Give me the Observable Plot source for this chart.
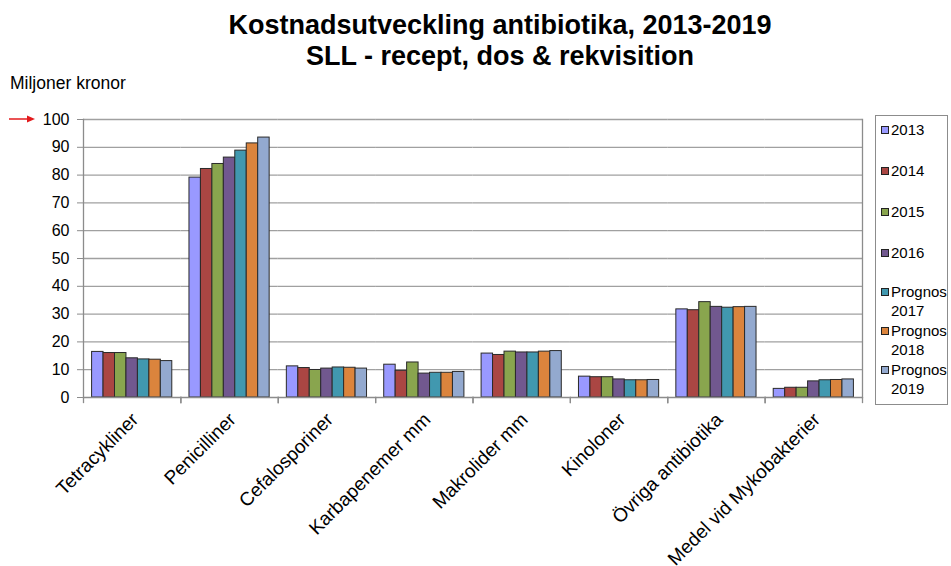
<!DOCTYPE html>
<html>
<head>
<meta charset="utf-8">
<script src="https://cdn.jsdelivr.net/npm/d3@7"></script>
<script src="https://cdn.jsdelivr.net/npm/@observablehq/plot@0.6"></script>
<style>
  body { margin: 0; background: #fff; font-family: "Liberation Sans", Arial, sans-serif; }
  #wrap { position: relative; width: 951px; height: 566px; }
  #wrap > svg { position: absolute; left: 0; top: 0; overflow: visible; }
  .title { position: absolute; left: 100px; width: 800px; text-align: center; font-weight: bold; font-size: 27px; line-height: 30px; color: #000; white-space: nowrap; }
  .unit { position: absolute; left: 10px; top: 73px; font-size: 17.5px; line-height: 20px; color: #000; white-space: nowrap; }
  .legend { position: absolute; left: 875px; top: 115px; width: 73px; height: 290px; border: 1px solid #8c8c8c; box-sizing: border-box; padding-top: 4px; background: #fff; }
  .item { position: relative; padding-left: 15px; font-size: 15px; line-height: 19px; color: #000; white-space: nowrap; }
  .sw { position: absolute; left: 5px; top: 6px; width: 6px; height: 6px; border: 1px solid #222; }
</style>
</head>
<body>
<div id="wrap"></div>
<script>
// Kostnad per antibiotikagrupp (miljoner kronor), 2013-2016 utfall, 2017-2019 prognos
const categories = [
  "Tetracykliner", "Penicilliner", "Cefalosporiner", "Karbapenemer mm",
  "Makrolider mm", "Kinoloner", "Övriga antibiotika", "Medel vid Mykobakterier"
];
const years = ["2013", "2014", "2015", "2016", "Prognos 2017", "Prognos 2018", "Prognos 2019"];
const colors = ["#9999ff", "#aa4643", "#89a54e", "#71588f", "#4198af", "#db843d", "#93a9cf"];

const v2013 = [16.4, 79.1, 11.2, 11.8, 15.8, 7.5, 31.7, 3.1];
const v2014 = [16.0, 82.2, 10.6,  9.6, 15.3, 7.3, 31.4, 3.5];
const v2015 = [16.0, 84.0,  9.9, 12.6, 16.5, 7.3, 34.3, 3.5];
const v2016 = [14.1, 86.3, 10.4,  8.6, 16.2, 6.5, 32.6, 5.8];
const v2017 = [13.7, 88.8, 10.8,  8.9, 16.2, 6.2, 32.3, 6.2];
const v2018 = [13.6, 91.4, 10.7,  8.9, 16.5, 6.2, 32.5, 6.3];
const v2019 = [13.1, 93.5, 10.4,  9.2, 16.7, 6.3, 32.6, 6.5];

const yTicks = [0, 10, 20, 30, 40, 50, 60, 70, 80, 90, 100];

const series = [v2013, v2014, v2015, v2016, v2017, v2018, v2019];
const rows = [];
categories.forEach((cat, i) => {
  years.forEach((year, j) => rows.push({cat, year, value: series[j][i]}));
});

const wrap = document.getElementById("wrap");
const innerHeight = 566 - 119 - 169;
const axisGray = "#8c8c8c";

const plot = Plot.plot({
  width: 951,
  height: 566,
  marginTop: 119,
  marginBottom: 169,
  marginLeft: 83,
  marginRight: 89,
  style: {fontFamily: "'Liberation Sans', Arial, sans-serif", background: "transparent", color: "#000", overflow: "visible"},
  fx: {domain: categories, padding: 0, round: false, label: null},
  x: {domain: years, paddingInner: 0, paddingOuter: 0.75, round: false, axis: null},
  y: {domain: [0, 100], label: null},
  color: {domain: years, range: colors},
  marks: [
    Plot.gridY(yTicks.slice(1), {stroke: "#a0a0a0", strokeOpacity: 1, strokeWidth: 1.3}),
    Plot.barY(rows, {fx: "cat", x: "year", y: "value", fill: "year", stroke: "#2a2a2a", strokeWidth: 1}),
    Plot.ruleY([0], {stroke: axisGray, strokeWidth: 1.3}),
    Plot.frame({anchor: "left", facetAnchor: "left", stroke: axisGray, strokeWidth: 1.3}),
    Plot.frame({anchor: "right", facetAnchor: "right", stroke: axisGray, strokeWidth: 1.3}),
    Plot.frame({anchor: "left", insetTop: innerHeight, insetBottom: -5, stroke: axisGray, strokeWidth: 1.3}),
    Plot.frame({anchor: "right", insetTop: innerHeight, insetBottom: -5, stroke: axisGray, strokeWidth: 1.3}),
    Plot.axisY(yTicks, {tickSize: 6, tickPadding: 8, fontSize: 16, stroke: axisGray, fill: "#000", label: null}),
    Plot.axisFx({anchor: "bottom", tickRotate: -45, tickSize: 0, tickPadding: 19, fontSize: 19, fill: "#000", label: null, dx: 3})
  ]
});
wrap.appendChild(plot);

// Red arrow pointing at the top of the value axis, drawn into the chart's own SVG
const y = plot.scale("y");
const yTop = y.apply(yTicks[yTicks.length - 1]);
const svg = d3.select(plot);
const arrow = svg.append("g").attr("fill", "#e31a1c").attr("stroke", "#e31a1c");
arrow.append("line").attr("x1", 9).attr("x2", 29).attr("y1", yTop).attr("y2", yTop).attr("stroke-width", 1.5);
arrow.append("path").attr("stroke", "none").attr("d", `M35,${yTop} L27,${yTop - 3.5} L27,${yTop + 3.5} Z`);

// Title and unit label
const t1 = document.createElement("div");
t1.className = "title"; t1.style.top = "10px"; t1.textContent = "Kostnadsutveckling antibiotika, 2013-2019";
const t2 = document.createElement("div");
t2.className = "title"; t2.style.top = "41px"; t2.textContent = "SLL - recept, dos & rekvisition";
const unit = document.createElement("div");
unit.className = "unit"; unit.textContent = "Miljoner kronor";
wrap.append(t1, t2, unit);

// Legend
const legend = document.createElement("div");
legend.className = "legend";
const gaps = [22, 22, 22, 20, 1, 1, 0];
years.forEach((year, i) => {
  const item = document.createElement("div");
  item.className = "item";
  item.style.marginBottom = gaps[i] + "px";
  const sw = document.createElement("span");
  sw.className = "sw";
  sw.style.background = colors[i];
  item.appendChild(sw);
  year.split(" ").forEach((p, k) => {
    if (k > 0) item.appendChild(document.createElement("br"));
    item.appendChild(document.createTextNode(p));
  });
  legend.appendChild(item);
});
wrap.appendChild(legend);
</script>
</body>
</html>
